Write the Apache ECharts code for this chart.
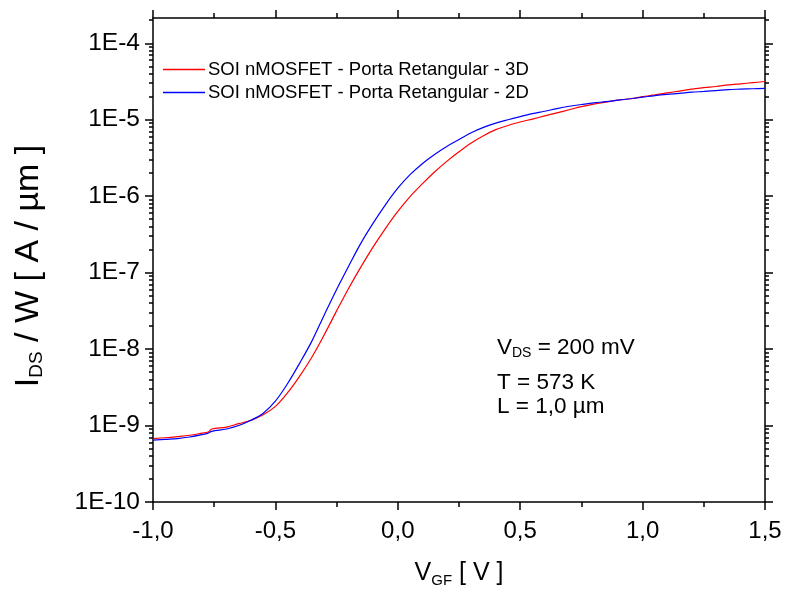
<!DOCTYPE html>
<html>
<head>
<meta charset="utf-8">
<title>SOI nMOSFET - IDS x VGF</title>
<script src="https://cdn.jsdelivr.net/npm/echarts@6/dist/echarts.min.js"></script>
<style>
  html, body { margin: 0; padding: 0; background: #ffffff; }
  #chart { width: 788px; height: 599px; }
</style>
</head>
<body>
<div id="chart"></div>
<script>
// Gate voltage V_GF [V]
const vgf = [
  -1.00, -0.95, -0.90, -0.85, -0.80, -0.775, -0.76, -0.70, -0.65, -0.60,
  -0.55, -0.50, -0.45, -0.40, -0.35, -0.30, -0.25, -0.20, -0.15, -0.10,
  -0.05, 0.00, 0.05, 0.10, 0.15, 0.20, 0.25, 0.30, 0.35, 0.40,
  0.45, 0.50, 0.55, 0.60, 0.65, 0.70, 0.75, 0.80, 0.85, 0.90,
  0.95, 1.00, 1.05, 1.10, 1.15, 1.20, 1.25, 1.30, 1.35, 1.40,
  1.45, 1.50
];

// I_DS / W [A/um], 3D simulation
const ids3D = [
  6.76e-10, 6.92e-10, 7.16e-10, 7.46e-10, 7.94e-10, 8.22e-10, 9.02e-10, 9.55e-10, 1.06e-9, 1.17e-9,
  1.38e-9, 1.78e-9, 2.69e-9, 4.47e-9, 7.94e-9, 1.55e-8, 3.16e-8, 6.31e-8, 1.20e-7, 2.19e-7,
  3.80e-7, 6.31e-7, 9.89e-7, 1.45e-6, 2.07e-6, 2.85e-6, 3.80e-6, 4.95e-6, 6.17e-6, 7.41e-6,
  8.41e-6, 9.33e-6, 1.02e-5, 1.12e-5, 1.23e-5, 1.35e-5, 1.48e-5, 1.60e-5, 1.70e-5, 1.80e-5,
  1.88e-5, 2.00e-5, 2.11e-5, 2.24e-5, 2.37e-5, 2.51e-5, 2.63e-5, 2.72e-5, 2.85e-5, 2.95e-5,
  3.05e-5, 3.16e-5
];

// I_DS / W [A/um], 2D simulation
const ids2D = [
  6.46e-10, 6.61e-10, 6.76e-10, 7.08e-10, 7.59e-10, 7.94e-10, 8.41e-10, 9.02e-10, 1.00e-9, 1.17e-9,
  1.45e-9, 2.09e-9, 3.55e-9, 6.61e-9, 1.29e-8, 2.82e-8, 6.03e-8, 1.23e-7, 2.45e-7, 4.47e-7,
  7.76e-7, 1.27e-6, 1.91e-6, 2.66e-6, 3.51e-6, 4.47e-6, 5.50e-6, 6.76e-6, 7.94e-6, 9.02e-6,
  1.00e-5, 1.10e-5, 1.20e-5, 1.29e-5, 1.40e-5, 1.50e-5, 1.58e-5, 1.66e-5, 1.72e-5, 1.80e-5,
  1.88e-5, 1.97e-5, 2.07e-5, 2.15e-5, 2.21e-5, 2.29e-5, 2.34e-5, 2.40e-5, 2.48e-5, 2.51e-5,
  2.54e-5, 2.57e-5
];

const seriesNames = [
  'SOI nMOSFET - Porta Retangular - 3D',
  'SOI nMOSFET - Porta Retangular - 2D'
];

const xTickValues = [-1.0, -0.5, 0.0, 0.5, 1.0, 1.5];
const xTickLabels = ['-1,0', '-0,5', '0,0', '0,5', '1,0', '1,5'];
const yTickValues = [1e-10, 1e-9, 1e-8, 1e-7, 1e-6, 1e-5, 1e-4];
const yTickLabels = ['1E-10', '1E-9', '1E-8', '1E-7', '1E-6', '1E-5', '1E-4'];

const Y_MIN = 1e-10;
const Y_MAX = 2.14e-4;

// minor ticks of the log axis: 2..9 in every decade
const yMinorTicks = [];
for (let e = -10; e <= -4; e++) {
  for (let k = 2; k <= 9; k++) {
    const v = k * Math.pow(10, e);
    if (v <= Y_MAX) yMinorTicks.push(v);
  }
}

const FONT = '"Liberation Sans", Arial, Helvetica, sans-serif';
const BLACK = '#000000';

// rich styles: normal text plus a lowered subscript
const subRich = (size, subSize, drop) => ({
  t: { fontSize: size, fontFamily: FONT, color: BLACK },
  s: { fontSize: subSize, fontFamily: FONT, color: BLACK, padding: [drop * 2, 0, 0, 0] }
});

function xLabel(v) {
  const i = xTickValues.findIndex(t => Math.abs(t - v) < 1e-9);
  return i >= 0 ? xTickLabels[i] : '';
}
function yLabel(v) {
  const i = yTickValues.findIndex(t => Math.abs(Math.log10(t) - Math.log10(v)) < 1e-6);
  return i >= 0 ? yTickLabels[i] : '';
}

const axisLineStyle = { color: BLACK, width: 1.5 };

function xAxisDef(pos, showLabel) {
  return {
    type: 'value',
    position: pos,
    min: -1, max: 1.5, interval: 0.5,
    axisLine: { show: true, onZero: false, lineStyle: axisLineStyle },
    axisTick: { show: true, inside: false, length: 8, lineStyle: axisLineStyle },
    minorTick: { show: true, splitNumber: 2, length: 5, lineStyle: axisLineStyle },
    splitLine: { show: false },
    minorSplitLine: { show: false },
    axisLabel: {
      show: showLabel, fontSize: 24, fontFamily: FONT, color: BLACK, margin: 17,
      formatter: xLabel
    }
  };
}

function yAxisDef(pos, ticks, len, withLine, showLabel) {
  return {
    type: 'log',
    logBase: 10,
    position: pos,
    min: Y_MIN, max: Y_MAX,
    axisLine: { show: withLine, onZero: false, lineStyle: axisLineStyle },
    axisTick: { show: true, inside: false, length: len, lineStyle: axisLineStyle, customValues: ticks },
    axisLabel: {
      show: showLabel, fontSize: 24.5, fontFamily: FONT, color: BLACK, margin: 13,
      customValues: yTickValues, formatter: yLabel
    },
    splitLine: { show: false }
  };
}

const xMain = xAxisDef('bottom', true);
xMain.name = '{t|V}{s|GF}{t| [ V ]}';
xMain.nameLocation = 'middle';
xMain.nameGap = 57;
xMain.nameTextStyle = { rich: subRich(25, 15, 7) };

const yMain = yAxisDef('left', yTickValues, 8, true, true);
yMain.name = '{t|I}{s|DS}{t| / W [ A / µm ]}';
yMain.nameLocation = 'middle';
yMain.nameGap = 107;
yMain.nameTextStyle = { rich: subRich(34, 19, 8), padding: [0, 12, 0, 0] };

const chart = echarts.init(document.getElementById('chart'), null, { renderer: 'canvas' });

chart.setOption({
  animation: false,
  backgroundColor: '#ffffff',
  grid: { left: 153, right: 23, top: 18, bottom: 97, containLabel: false },
  legend: {
    orient: 'vertical',
    left: 163, top: 60,
    padding: 0,
    icon: 'path://M0,0H42V1.3H0Z',
    itemWidth: 42, itemHeight: 14, itemGap: 4,
    textStyle: { fontSize: 18.5, fontFamily: FONT, color: BLACK, padding: [0, 0, 0, -2] },
    data: seriesNames
  },
  xAxis: [xMain, xAxisDef('top', false)],
  yAxis: [
    yMain,
    yAxisDef('left', yMinorTicks, 4, false, false),
    yAxisDef('right', yTickValues, 8, true, false),
    yAxisDef('right', yMinorTicks, 4, false, false)
  ],
  series: [
    {
      name: seriesNames[0], type: 'line', xAxisIndex: 0, yAxisIndex: 0,
      symbol: 'none', smooth: 0.35,
      lineStyle: { color: '#ff0000', width: 1.2 }, itemStyle: { color: '#ff0000' },
      data: vgf.map((v, i) => [v, ids3D[i]])
    },
    {
      name: seriesNames[1], type: 'line', xAxisIndex: 0, yAxisIndex: 0,
      symbol: 'none', smooth: 0.35,
      lineStyle: { color: '#0000ff', width: 1.2 }, itemStyle: { color: '#0000ff' },
      data: vgf.map((v, i) => [v, ids2D[i]])
    }
  ],
  graphic: [
    { type: 'text', left: 497, top: 336,
      style: { text: '{t|V}{s|DS}{t| = 200 mV}', rich: subRich(22.5, 14, 6) } },
    { type: 'text', left: 497, top: 371,
      style: { text: 'T = 573 K', fontSize: 22.5, fontFamily: FONT, fill: BLACK } },
    { type: 'text', left: 497, top: 395,
      style: { text: 'L = 1,0 µm', fontSize: 22.5, fontFamily: FONT, fill: BLACK } }
  ]
});
</script>
</body>
</html>
